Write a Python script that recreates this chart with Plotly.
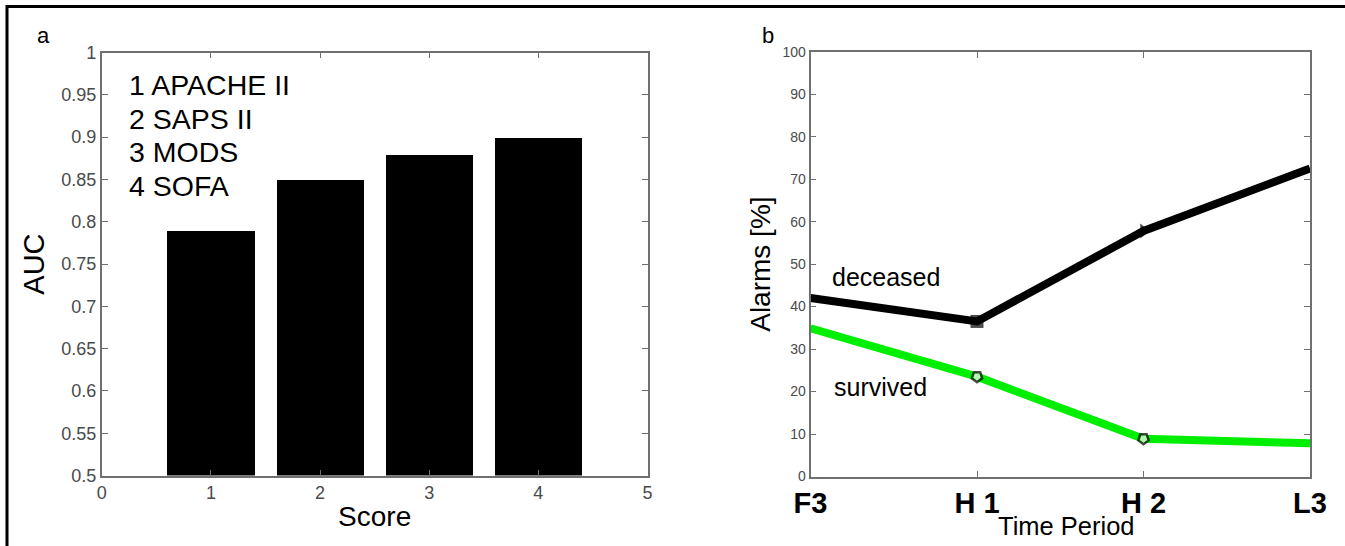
import plotly.graph_objects as go

# ---------------- data ----------------
score_ids = [1, 2, 3, 4]
auc_values = [0.79, 0.85, 0.88, 0.90]
score_names = ["1 APACHE II", "2 SAPS II", "3 MODS", "4 SOFA"]

periods = ["F3", "H 1", "H 2", "L3"]
period_pos = [0, 1, 2, 3]
deceased = [42.0, 36.5, 57.8, 72.5]
survived = [34.9, 23.5, 8.9, 7.8]

auc_ticks = [0.5, 0.55, 0.6, 0.65, 0.7, 0.75, 0.8, 0.85, 0.9, 0.95, 1.0]
auc_ticktext = ["0.5", "0.55", "0.6", "0.65", "0.7", "0.75", "0.8", "0.85", "0.9", "0.95", "1"]
alarm_ticks = [0, 10, 20, 30, 40, 50, 60, 70, 80, 90, 100]

# ---------------- layout helpers ----------------
W, H = 1345, 546
def px(x):
    return x / W
def py(y):
    return 1 - y / H

FONT = "Liberation Sans, Arial, sans-serif"
GRAY = "#4a4a4a"
AXC = "#707070"

fig = go.Figure()

fig.add_trace(go.Bar(
    x=score_ids, y=auc_values, width=0.8,
    marker=dict(color="black", line=dict(width=0)),
    xaxis="x", yaxis="y", showlegend=False,
))

fig.add_trace(go.Scatter(
    x=period_pos, y=deceased, mode="lines+markers",
    line=dict(color="black", width=8),
    marker=dict(color="black", size=[0, 13, 13, 0],
                symbol=["square", "square", "triangle-right", "square"],
                line=dict(width=0)),
    xaxis="x2", yaxis="y2", showlegend=False, cliponaxis=False,
))
fig.add_trace(go.Scatter(
    x=period_pos, y=survived, mode="lines+markers",
    line=dict(color="#00ee00", width=8),
    marker=dict(color="white", size=[0, 11, 11, 0], symbol="pentagon", angle=180,
                line=dict(color="black", width=2.5)),
    xaxis="x2", yaxis="y2", showlegend=False, cliponaxis=False,
))

common_axis = dict(
    showline=True, linecolor=AXC, linewidth=1.8, mirror="ticks",
    ticks="inside", ticklen=6, tickcolor=AXC, tickwidth=1.2,
    showgrid=False, zeroline=False, automargin=False,
)

fig.update_layout(
    template="none",
    width=W, height=H,
    margin=dict(l=0, r=0, t=0, b=0, pad=0),
    paper_bgcolor="white", plot_bgcolor="white",
    font=dict(family=FONT, color="black"),
    bargap=0,
    xaxis=dict(
        domain=[px(101.8), px(647.5)], range=[0, 5],
        tickvals=[0, 1, 2, 3, 4, 5],
        tickfont=dict(size=18, color=GRAY, family=FONT),
        title=dict(text="Score", font=dict(size=28, color="black", family=FONT), standoff=4),
        anchor="y", **common_axis,
    ),
    yaxis=dict(
        domain=[py(475.6), py(52.5)], range=[0.5, 1.0],
        tickvals=auc_ticks, ticktext=auc_ticktext,
        tickfont=dict(size=18, color=GRAY, family=FONT),
        title=dict(text="AUC", font=dict(size=29, color="black", family=FONT), standoff=8),
        anchor="x", **common_axis,
    ),
    xaxis2=dict(
        domain=[px(810.5), px(1310)], range=[0, 3],
        tickvals=period_pos, ticktext=periods,
        tickfont=dict(size=29, color="black", family=FONT, weight="bold"),
        anchor="y2", **common_axis,
    ),
    yaxis2=dict(
        domain=[py(476.5), py(51.7)], range=[0, 100],
        tickvals=alarm_ticks,
        tickfont=dict(size=14, color=GRAY, family=FONT),
        title=dict(text="Alarms [%]", font=dict(size=28, color="black", family=FONT), standoff=4),
        anchor="x2", **common_axis,
    ),
)

annotations = []
# score legend text inside panel a
name_y = [85, 118.5, 152, 186]
for name, yy in zip(score_names, name_y):
    annotations.append(dict(
        x=px(127), y=py(yy), xref="paper", yref="paper",
        xanchor="left", yanchor="middle", showarrow=False,
        text=name, font=dict(size=28.5, color="black", family=FONT),
    ))
# panel letters
annotations.append(dict(x=px(43), y=py(35), xref="paper", yref="paper",
                        xanchor="center", yanchor="middle", showarrow=False,
                        text="a", font=dict(size=22, color="black", family=FONT)))
annotations.append(dict(x=px(768), y=py(35), xref="paper", yref="paper",
                        xanchor="center", yanchor="middle", showarrow=False,
                        text="b", font=dict(size=22, color="black", family=FONT)))
# x title panel b (sits low between the tick labels, as in the original)
annotations.append(dict(x=px(1066), y=py(526), xref="paper", yref="paper",
                        xanchor="center", yanchor="middle", showarrow=False,
                        text="Time Period", font=dict(size=25.5, color="black", family=FONT)))
# series labels
annotations.append(dict(x=0.12, y=46.9, xref="x2", yref="y2",
                        xanchor="left", yanchor="middle", showarrow=False,
                        text="deceased", font=dict(size=25, color="black", family=FONT)))
annotations.append(dict(x=0.13, y=21, xref="x2", yref="y2",
                        xanchor="left", yanchor="middle", showarrow=False,
                        text="survived", font=dict(size=25, color="black", family=FONT)))
fig.update_layout(annotations=annotations)

# outer frame lines (top and left)
fig.add_shape(type="line", xref="paper", yref="paper",
              x0=px(6), x1=1, y0=py(6.5), y1=py(6.5),
              line=dict(color="black", width=3))
fig.add_shape(type="line", xref="paper", yref="paper",
              x0=px(7), x1=px(7), y0=py(5), y1=0,
              line=dict(color="black", width=3))

fig.write_html(
    "out.html",
    config={"displayModeBar": False},
    post_script="document.body.style.margin='0';document.body.style.padding='0';document.body.style.overflow='hidden';",
)
